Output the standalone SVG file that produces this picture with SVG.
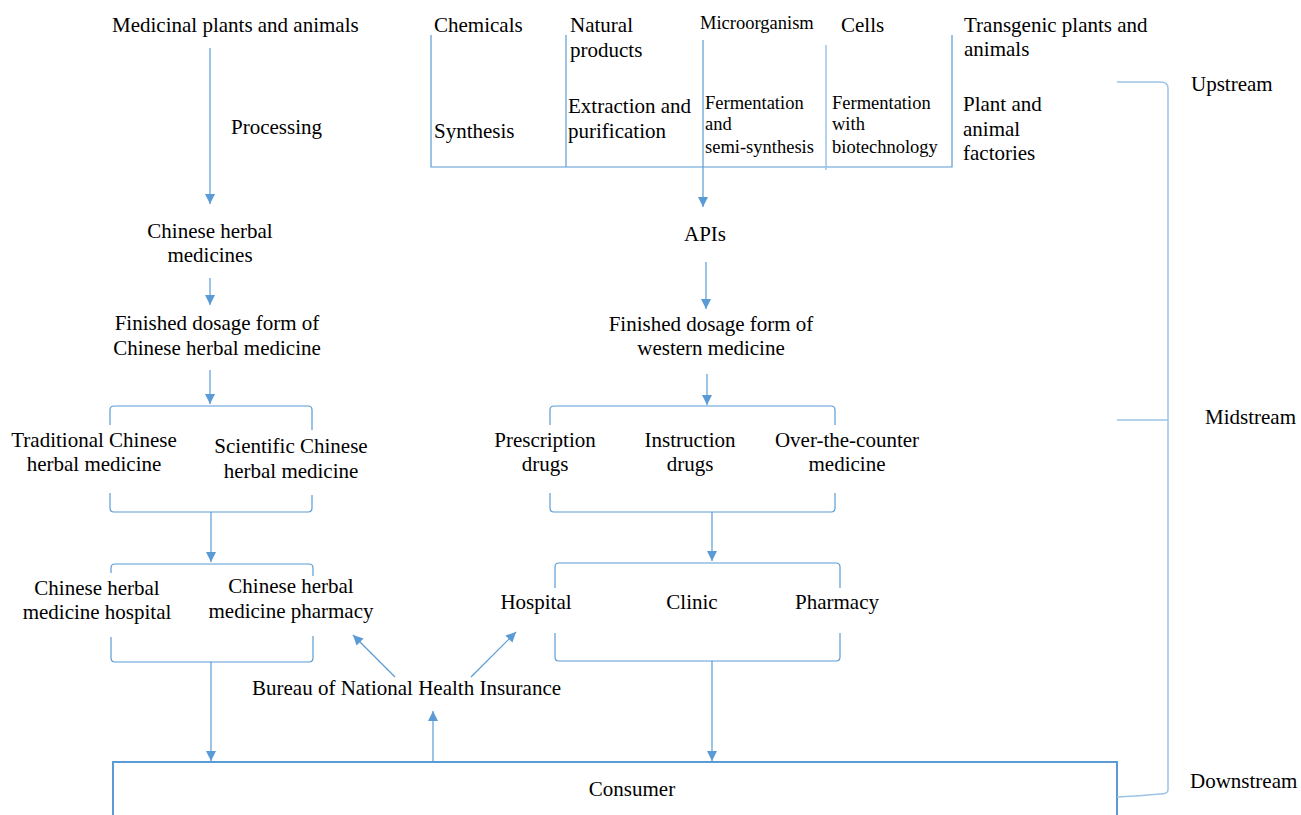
<svg xmlns="http://www.w3.org/2000/svg" width="1301" height="815" viewBox="0 0 1301 815">
  <defs>
    <marker id="arrow" viewBox="0 0 10 10" refX="10" refY="5" markerWidth="10" markerHeight="10" markerUnits="userSpaceOnUse" orient="auto">
      <path d="M0,0 L10,5 L0,10 z" fill="#5B9BD5"/>
    </marker>
  </defs>
  <style>
    text { font-family: "Liberation Serif", "Times New Roman", "DejaVu Serif", serif; font-size: 21px; fill: #000; }
    .sm { font-size: 18.5px; }
    .mid { text-anchor: middle; }
    .ln { fill: none; stroke: #5B9BD5; stroke-width: 1.2; }
    .lt { fill: none; stroke: #9DC3E6; stroke-width: 1.5; }
    .ar { fill: none; stroke: #5B9BD5; stroke-width: 1.2; marker-end: url(#arrow); }
    .box { fill: none; stroke: #5B9BD5; stroke-width: 2; }
  </style>

  <rect width="1301" height="815" fill="#fff"/>

  <!-- Connectors -->
  <g id="connectors">
    <!-- herbal chain -->
    <line class="ar" x1="210" y1="48" x2="210" y2="204"/>
    <line class="ar" x1="210" y1="278" x2="210" y2="305"/>
    <line class="ar" x1="210" y1="370" x2="210" y2="404"/>
    <line class="ar" x1="211" y1="512" x2="211" y2="562"/>
    <line class="ar" x1="211" y1="662" x2="211" y2="761"/>
    <!-- western chain -->
    <line class="ar" x1="703" y1="40" x2="703" y2="207"/>
    <line class="ar" x1="706" y1="262" x2="706" y2="309"/>
    <line class="ar" x1="707" y1="374" x2="707" y2="405"/>
    <line class="ar" x1="712" y1="512" x2="712" y2="561"/>
    <line class="ar" x1="712" y1="661" x2="712" y2="761"/>
    <!-- insurance -->
    <line class="ar" x1="433" y1="761" x2="433" y2="711"/>
    <line class="ar" x1="395" y1="677" x2="353" y2="635"/>
    <line class="ar" x1="471" y1="677" x2="516" y2="632"/>
  </g>

  <!-- Upstream raw-material table -->
  <g id="upstream-table">
    <path class="ln" d="M431,35 V167 H952 V35"/>
    <line class="ln" x1="566" y1="35" x2="566" y2="167"/>
    <line class="lt" x1="826" y1="45" x2="826" y2="170"/>
    <text x="434" y="32">Chemicals</text>
    <text x="434" y="138">Synthesis</text>
    <text x="570" y="32">Natural</text>
    <text x="570" y="57">products</text>
    <text x="568" y="113">Extraction and</text>
    <text x="568" y="138">purification</text>
    <text class="sm" x="700" y="29">Microorganism</text>
    <text class="sm" x="705" y="109">Fermentation</text>
    <text class="sm" x="705" y="130">and</text>
    <text class="sm" x="705" y="153">semi-synthesis</text>
    <text x="841" y="32">Cells</text>
    <text class="sm" x="832" y="109">Fermentation</text>
    <text class="sm" x="832" y="130">with</text>
    <text class="sm" x="832" y="153">biotechnology</text>
    <text x="964" y="32">Transgenic plants and</text>
    <text x="964" y="56">animals</text>
    <text x="963" y="111">Plant and</text>
    <text x="963" y="136">animal</text>
    <text x="963" y="160">factories</text>
  </g>

  <!-- Chinese herbal medicine chain -->
  <g id="medicinal-plants">
    <text x="112" y="32">Medicinal plants and animals</text>
  </g>
  <g id="processing">
    <text x="231" y="134">Processing</text>
  </g>
  <g id="herbal-medicines">
    <text class="mid" x="210" y="238">Chinese herbal</text>
    <text class="mid" x="210" y="262">medicines</text>
  </g>
  <g id="herbal-dosage">
    <text class="mid" x="217" y="330">Finished dosage form of</text>
    <text class="mid" x="217" y="355">Chinese herbal medicine</text>
  </g>
  <g id="herbal-types">
    <path class="ln" d="M110,425 V410 Q110,406 114,406 H308 Q312,406 312,410 V430"/>
    <path class="ln" d="M110,493 V508 Q110,512 114,512 H308 Q312,512 312,508 V495"/>
    <text class="mid" x="94" y="447">Traditional Chinese</text>
    <text class="mid" x="94" y="471">herbal medicine</text>
    <text class="mid" x="291" y="453">Scientific Chinese</text>
    <text class="mid" x="291" y="478">herbal medicine</text>
  </g>
  <g id="herbal-outlets">
    <path class="ln" d="M111,573 V568 Q111,564 115,564 H309 Q313,564 313,568 V576"/>
    <path class="ln" d="M111,637 V658 Q111,662 115,662 H309 Q313,662 313,658 V636"/>
    <text class="mid" x="97" y="595">Chinese herbal</text>
    <text class="mid" x="97" y="619">medicine hospital</text>
    <text class="mid" x="291" y="593">Chinese herbal</text>
    <text class="mid" x="291" y="618">medicine pharmacy</text>
  </g>

  <!-- Western medicine chain -->
  <g id="apis">
    <text class="mid" x="705" y="241">APIs</text>
  </g>
  <g id="western-dosage">
    <text class="mid" x="711" y="331">Finished dosage form of</text>
    <text class="mid" x="711" y="355">western medicine</text>
  </g>
  <g id="western-types">
    <path class="ln" d="M550,425 V410 Q550,406 554,406 H831 Q835,406 835,410 V425"/>
    <path class="ln" d="M550,493 V508 Q550,512 554,512 H831 Q835,512 835,508 V493"/>
    <text class="mid" x="545" y="447">Prescription</text>
    <text class="mid" x="545" y="471">drugs</text>
    <text class="mid" x="690" y="447">Instruction</text>
    <text class="mid" x="690" y="471">drugs</text>
    <text class="mid" x="847" y="447">Over-the-counter</text>
    <text class="mid" x="847" y="471">medicine</text>
  </g>
  <g id="western-outlets">
    <path class="ln" d="M555,588 V567 Q555,563 559,563 H836 Q840,563 840,567 V588"/>
    <path class="ln" d="M555,633 V657 Q555,661 559,661 H836 Q840,661 840,657 V633"/>
    <text class="mid" x="536" y="609">Hospital</text>
    <text class="mid" x="692" y="609">Clinic</text>
    <text class="mid" x="837" y="609">Pharmacy</text>
  </g>

  <!-- Insurance bureau -->
  <g id="insurance">
    <text x="252" y="695">Bureau of National Health Insurance</text>
  </g>

  <!-- Consumer -->
  <g id="consumer">
    <path class="box" d="M113,815 V762 H1117 V815"/>
    <text class="mid" x="632" y="796">Consumer</text>
  </g>

  <!-- Stage bracket -->
  <g id="stages">
    <path class="lt" d="M1117,82 H1160 Q1168,82 1168,88 V790 Q1168,794 1160,794 Q1140,796 1117,797"/>
    <line class="lt" x1="1117" y1="420" x2="1168" y2="420"/>
    <text x="1191" y="91">Upstream</text>
    <text x="1205" y="424">Midstream</text>
    <text x="1190" y="788">Downstream</text>
  </g>
</svg>
